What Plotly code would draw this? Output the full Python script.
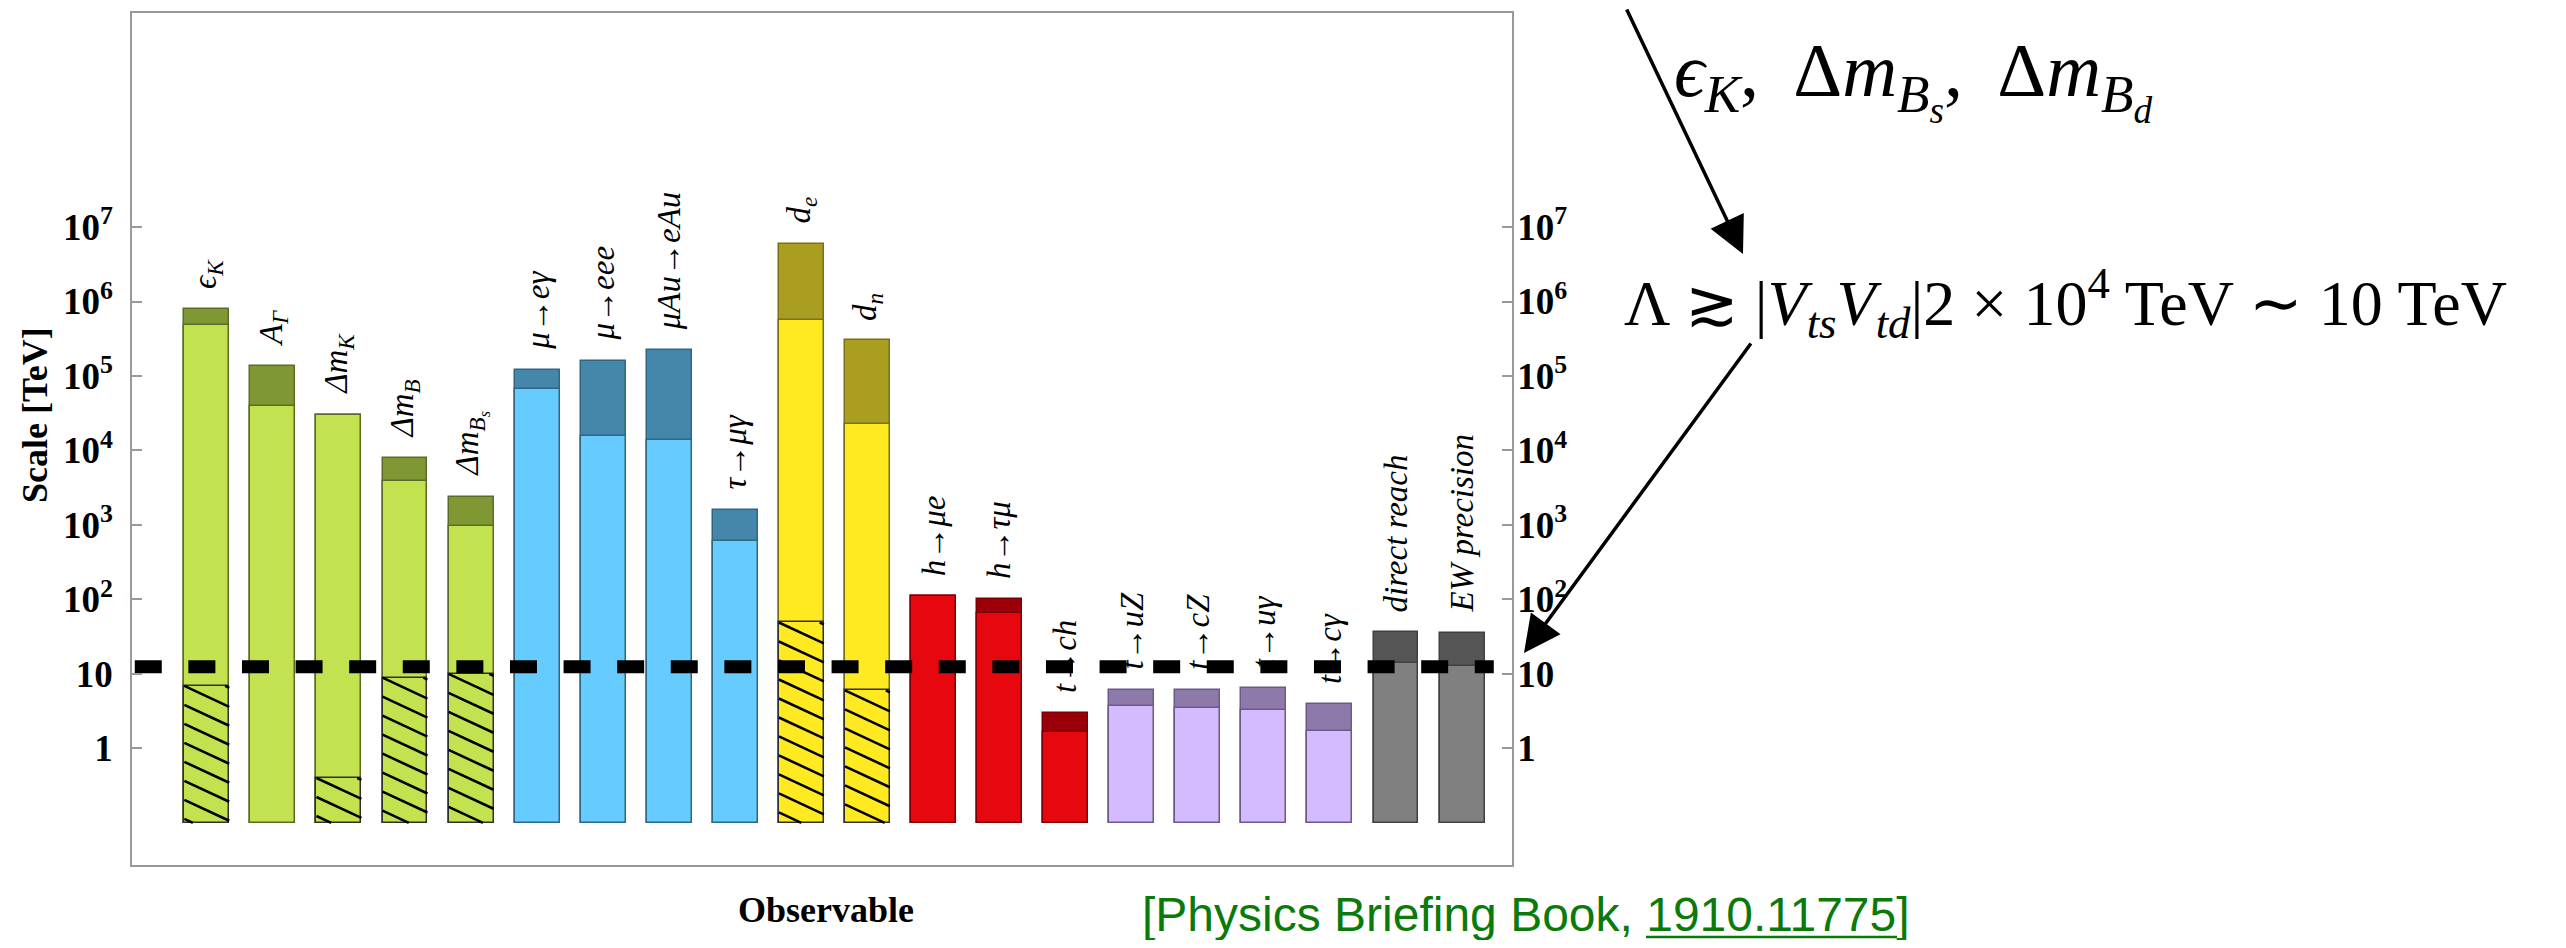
import math
import plotly.graph_objects as go

# ---------------- data ----------------
obs_labels = [
    "ϵ<sub>K</sub>", "A<sub>Γ</sub>", "Δm<sub>K</sub>", "Δm<sub>B</sub>",
    "Δm<sub>B<sub>s</sub></sub>", "μ→eγ", "μ→eee", "μAu→eAu", "τ→μγ",
    "d<sub>e</sub>", "d<sub>n</sub>", "h→μe", "h→τμ", "t→ch", "t→uZ",
    "t→cZ", "t→uγ", "t→cγ", "direct reach", "EW precision",
]
groups = (["flavour"] * 5 + ["lfv"] * 4 + ["edm"] * 2 + ["higgs"] * 3
          + ["top"] * 4 + ["ew"] * 2)
# upper (dark) bound, lower (light) bound, hatched bound  [TeV]
scale_upper = [7.9e5, 1.35e5, 3.0e4, 7.9e3, 2.4e3, 1.2e5, 1.6e5, 2.2e5, 1.6e3,
               6.0e6, 3.0e5, 110, 100, 3.0, 6.1, 6.1, 6.5, 4.0, 36, 35.5]
scale_lower = [4.9e5, 3.9e4, 3.0e4, 3.9e3, 980, 6.7e4, 1.57e4, 1.39e4, 600,
               5.7e5, 2.25e4, 110, 65, 1.67, 3.7, 3.45, 3.25, 1.72, 14, 12.8]
scale_hatch = [6.9, None, 0.4, 8.9, 10, None, None, None, None,
               49, 6.0, None, None, None, None, None, None, None, None, None]
bar_base = 0.1
reference_scale = 12.5          # dashed line  [TeV]
ref_line_x = [-1.09, 19.48]

ytick_vals = [1, 10, 1e2, 1e3, 1e4, 1e5, 1e6, 1e7]
ytick_text = ["1", "10", "10<sup>2</sup>", "10<sup>3</sup>", "10<sup>4</sup>",
              "10<sup>5</sup>", "10<sup>6</sup>", "10<sup>7</sup>"]

light_col = {"flavour": "#c3e250", "lfv": "#66ccff", "edm": "#ffea22",
             "higgs": "#e6080e", "top": "#d4baff", "ew": "#808080"}
dark_col = {"flavour": "#809834", "lfv": "#4487aa", "edm": "#aa9e20",
            "higgs": "#9b0008", "top": "#8e7aaa", "ew": "#555555"}
edge_col = {"flavour": "#5b6c28", "lfv": "#2f6684", "edm": "#7a7018",
            "higgs": "#7d0005", "top": "#6a5a88", "ew": "#404040"}

# ---------------- geometry (page pixels; body has an 8px margin) ----------------
OFF = 8
W, H = 2566 - 2 * OFF, 948 - 2 * OFF
ML, MT = 132 - OFF, 13 - OFF
PR, PB = 1512 - OFF, 865 - OFF          # plot right / bottom in figure px
MR, MB = W - PR, H - PB
PW, PH = PR - ML, PB - MT


def pxx(page_x):
    return (page_x - OFF - ML) / PW


def pxy(page_y):
    return (PB - (page_y - OFF)) / PH


xs = list(range(len(obs_labels)))
lc = [light_col[g] for g in groups]
dc = [dark_col[g] for g in groups]
ec = [edge_col[g] for g in groups]
BW = 0.68

fig = go.Figure()
fig.add_trace(go.Bar(
    x=xs, y=[u - bar_base for u in scale_upper], base=bar_base, width=BW,
    marker=dict(color=dc, line=dict(color=ec, width=1.5)), showlegend=False))
fig.add_trace(go.Bar(
    x=xs, y=[l - bar_base for l in scale_lower], base=bar_base, width=BW,
    marker=dict(color=lc, line=dict(color=ec, width=1.5)), showlegend=False))
fig.add_trace(go.Bar(
    x=xs, y=[(h - bar_base) if h is not None else None for h in scale_hatch],
    base=bar_base, width=BW,
    marker=dict(color=lc, line=dict(color="#303030", width=1.5)),
    showlegend=False))

# hatching of the lower segments: lines at ~25 deg, computed per hatched bar
hatch_slope = 0.413   # decades per category unit
hatch_step = 0.255    # decades between lines
hx, hy = [], []
for i, h in enumerate(scale_hatch):
    if h is None:
        continue
    x0, x1 = i - BW / 2, i + BW / 2
    ylo, yhi = math.log10(bar_base), math.log10(h)
    j_lo = math.ceil(-(yhi - ylo) / hatch_step)
    j_hi = math.floor(hatch_slope * BW / hatch_step)
    for j in range(j_lo, j_hi + 1):
        c = yhi + j * hatch_step
        xa = max(x0, x0 + (c - yhi) / hatch_slope)
        xb = min(x1, x0 + (c - ylo) / hatch_slope)
        if xb - xa < 1e-6:
            continue
        hx += [xa, xb, None]
        hy += [10 ** (c - hatch_slope * (xa - x0)),
               10 ** (c - hatch_slope * (xb - x0)), None]
fig.add_trace(go.Scatter(x=hx, y=hy, mode="lines",
                         line=dict(color="black", width=2.6),
                         showlegend=False, hoverinfo="skip"))

fig.add_trace(go.Scatter(
    x=ref_line_x, y=[reference_scale, reference_scale], yaxis="y2",
    mode="lines", line=dict(color="black", width=13, dash="27px,26.6px"),
    showlegend=False, hoverinfo="skip"))

yrange = [-1.566, 9.874]
axis_common = dict(type="log", range=yrange, tickvals=ytick_vals,
                   ticktext=ytick_text, ticks="inside", ticklen=10,
                   tickwidth=1.5, tickcolor="#999999", showline=True,
                   linecolor="#999999", linewidth=1.5, showgrid=False,
                   zeroline=False,
                   tickfont=dict(family="Liberation Serif", size=37,
                                 color="black", weight="bold"))

fig.update_layout(
    width=W, height=H,
    margin=dict(l=ML, r=MR, t=MT, b=MB, autoexpand=False),
    paper_bgcolor="white", plot_bgcolor="white",
    barmode="overlay", bargap=0,
    xaxis=dict(range=[-1.132, 19.756], showticklabels=False, ticks="",
               showline=True, mirror=True, linecolor="#999999", linewidth=1.5,
               showgrid=False, zeroline=False),
    yaxis=dict(**axis_common, side="left", ticklabelstandoff=10),
    yaxis2=dict(**axis_common, side="right", overlaying="y",
                ticklabelstandoff=-4),
)

ann = []
# bar labels
for i, lab in enumerate(obs_labels):
    ann.append(dict(x=i, y=math.log10(scale_upper[i]), xref="x", yref="y",
                    text="<i>" + lab + "</i>", showarrow=False, textangle=-90,
                    xanchor="center", yanchor="bottom", yshift=18,
                    font=dict(family="Liberation Serif", size=33, color="black")))
# axis titles
ann.append(dict(x=pxx(35), y=pxy(415), xref="paper", yref="paper",
                xanchor="center", yanchor="middle",
                text="<b>Scale [TeV]</b>", textangle=-90, showarrow=False,
                font=dict(family="Liberation Serif", size=36, color="black")))
ann.append(dict(x=pxx(826), y=pxy(910), xref="paper", yref="paper",
                xanchor="center", yanchor="middle",
                text="<b>Observable</b>", showarrow=False,
                font=dict(family="Liberation Serif", size=36, color="black")))
# right-hand notes
ann.append(dict(x=pxx(1672), y=pxy(80), xref="paper", yref="paper",
                xanchor="left", yanchor="middle", showarrow=False,
                text="<i>ϵ<sub>K</sub></i>,\u2009 Δ<i>m<sub>B<sub>s</sub></sub></i>,\u2009 Δ<i>m<sub>B<sub>d</sub></sub></i>",
                font=dict(family="Liberation Serif", size=76, color="black")))
ann.append(dict(x=pxx(1622), y=pxy(303), xref="paper", yref="paper",
                xanchor="left", yanchor="middle", showarrow=False,
                text="Λ ≳ |<i>V<sub>ts</sub>V<sub>td</sub></i>|2 × 10<sup>4</sup> TeV ∼ 10 TeV",
                font=dict(family="Liberation Serif", size=64, color="black")))
ann.append(dict(x=pxx(1743), y=pxy(254), xref="paper", yref="paper",
                ax=-117, ay=-262, axref="pixel", ayref="pixel",
                showarrow=True, arrowhead=2, arrowsize=2.1, arrowwidth=3.5,
                arrowcolor="black", text=""))
ann.append(dict(x=pxx(1524), y=pxy(653), xref="paper", yref="paper",
                ax=228, ay=-311, axref="pixel", ayref="pixel",
                showarrow=True, arrowhead=2, arrowsize=2.1, arrowwidth=3.5,
                arrowcolor="black", text=""))
ann.append(dict(x=pxx(1140), y=pxy(914), xref="paper", yref="paper",
                xanchor="left", yanchor="middle", showarrow=False,
                text="[Physics Briefing Book, 1910.11775]",
                font=dict(family="Liberation Sans", size=48, color="#0a7a0a")))
fig.update_layout(annotations=ann)

# underline of the arXiv number
fig.add_shape(type="line", xref="paper", yref="paper",
              x0=pxx(1646), x1=pxx(1897), y0=pxy(937), y1=pxy(937),
              line=dict(color="#0a7a0a", width=2.5))

fig.write_html("out.html")
